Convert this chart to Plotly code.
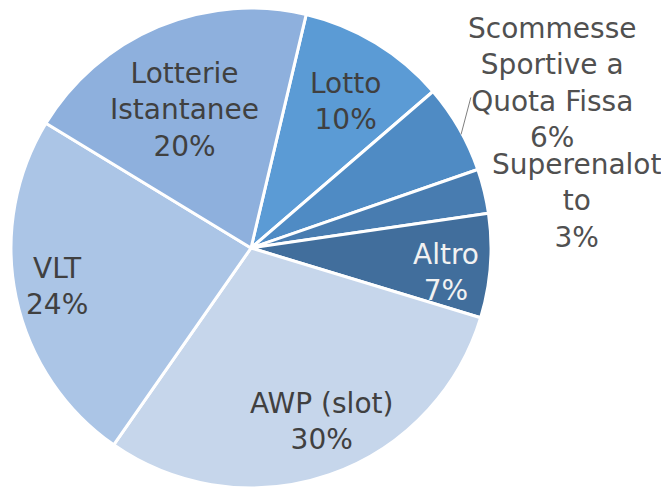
import math
import plotly.graph_objects as go

labels = ["Lotto", "Scommesse Sportive a Quota Fissa", "Superenalotto", "Altro",
          "AWP (slot)", "VLT", "Lotterie Istantanee"]
display = ["Lotto", "Scommesse<br>Sportive a<br>Quota Fissa", "Superenalot<br>to", "Altro",
           "AWP (slot)", "VLT", "Lotterie<br>Istantanee"]
values = [10, 6, 3, 7, 30, 24, 20]

# styling
colors = ["#5B9BD5", "#4F8BC4", "#487CB0", "#416E9C", "#C6D6EB", "#ABC5E6", "#8EB0DD"]
text_colors = ["#404040", "#505050", "#505050", "#F2F2F2", "#404040", "#404040", "#404040"]
label_radius = [0.735, 1.454, 1.370, 0.819, 0.780, 0.824, 0.646]   # fraction of pie radius
label_angle_adj = [1.1, -0.6, 5.5, 3.0, -3.0, 0.8, -2.9]            # degrees
label_yshift = [-2, -12, 0, 0, 0, 0, -2]                             # pixels

W, H = 669, 489
ROT = 13.3
dom_x = [0.00448, 0.722]
dom_y = [0.0184, 1.0]

fig = go.Figure(go.Pie(
    labels=labels,
    values=values,
    textinfo="none",
    sort=False,
    direction="clockwise",
    rotation=ROT,
    automargin=False,
    marker=dict(colors=colors, line=dict(color="white", width=3)),
    domain=dict(x=dom_x, y=dom_y),
    showlegend=False,
    hoverinfo="label+percent",
))

# label placement derived from slice mid-angles
cx = (dom_x[0] + dom_x[1]) / 2 * W
cy = (1 - (dom_y[0] + dom_y[1]) / 2) * H
R = min((dom_x[1] - dom_x[0]) * W, (dom_y[1] - dom_y[0]) * H) / 2
total = sum(values)
annotations = []
shapes = []
cum = 0
for i, v in enumerate(values):
    mid = ROT + (cum + v / 2) / total * 360
    cum += v
    th = math.radians(mid + label_angle_adj[i])
    r = label_radius[i] * R
    px = cx + r * math.sin(th)
    py = cy - r * math.cos(th)
    pct = round(v / total * 100)
    annotations.append(dict(
        x=px / W, y=1 - py / H, xref="paper", yref="paper",
        text=f"{display[i]}<br>{pct}%", showarrow=False,
        xanchor="center", yanchor="middle", align="center",
        yshift=label_yshift[i],
        font=dict(family="DejaVu Sans", size=28, color=text_colors[i]),
    ))
    if i == 1:  # leader line for the outside label
        t0 = math.radians(mid + 1.5)
        t1 = math.radians(mid - 4.5)
        x0, y0 = cx + 0.995 * R * math.sin(t0), cy - 0.995 * R * math.cos(t0)
        x1, y1 = cx + 1.11 * R * math.sin(t1), cy - 1.11 * R * math.cos(t1)
        shapes.append(dict(type="line", xref="paper", yref="paper",
                           x0=x0 / W, y0=1 - y0 / H, x1=x1 / W, y1=1 - y1 / H,
                           line=dict(color="#7F7F7F", width=1)))

fig.update_layout(
    width=W, height=H,
    autosize=False,
    margin=dict(l=0, r=0, t=0, b=0, pad=0, autoexpand=False),
    paper_bgcolor="white",
    plot_bgcolor="white",
    annotations=annotations,
    shapes=shapes,
)

fig.write_html("out.html", config={"responsive": False})
